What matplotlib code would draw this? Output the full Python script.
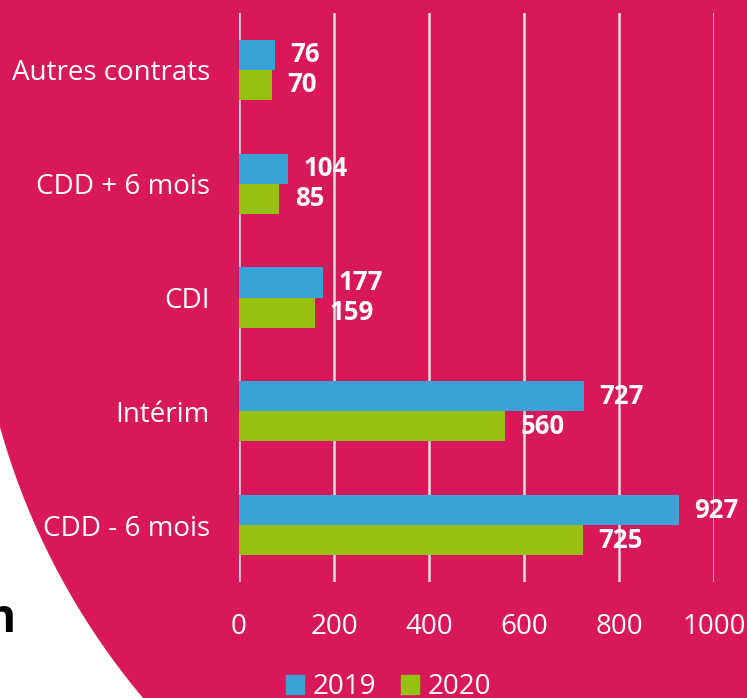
import matplotlib

matplotlib.use("Agg")
import matplotlib.pyplot as plt
import numpy as np
from matplotlib.patches import Polygon, Patch

categories = ["CDD - 6 mois", "Intérim", "CDI", "CDD + 6 mois", "Autres contrats"]
values_2019 = [927, 727, 177, 104, 76]
values_2020 = [725, 560, 159, 85, 70]
series_names = ["2019", "2020"]
x_ticks = [0, 200, 400, 600, 800, 1000]

MAGENTA = "#D9185B"
BLUE = "#3AA3D6"
GREEN = "#97C110"
GRID = "#E2DDE0"

plt.rcParams["font.family"] = ["Open Sans", "DejaVu Sans"]

W, H = 747, 698
figure = plt.figure(figsize=(W / 100, H / 100), dpi=100)
figure.patch.set_facecolor(MAGENTA)

# white area in the lower left corner (edge of a big round shape)
cx, cy, r = 698.2, 231.8, 725.0
y_start = cy + np.sqrt(r**2 - cx**2)
x_end = cx - np.sqrt(r**2 - (H + 10 - cy) ** 2)
t0 = np.arctan2(y_start - cy, 0 - cx)
t1 = np.arctan2(H + 10 - cy, x_end - cx)
theta = np.linspace(t0, t1, 200)
arc_x = cx + r * np.cos(theta)
arc_y = cy + r * np.sin(theta)
pts = [(x / W, 1 - y / H) for x, y in zip(arc_x, arc_y)]
pts += [(-0.02, 1 - (H + 10) / H), (-0.02, 1 - y_start / H)]
figure.patches.append(Polygon(pts, closed=True, facecolor="white", edgecolor="none",
                              transform=figure.transFigure, zorder=-1))

figure.text(16 / W, 1 - 632 / H, "n", ha="right", va="baseline", fontsize=33,
            fontweight="bold", color="black")

axis = figure.add_axes([239 / W, 1 - 582 / H, (714 - 239) / W, (582 - 13) / H])
axis.set_facecolor("none")

y = np.arange(len(categories))
h = 0.264
bars_2019 = axis.barh(y + h / 2, values_2019, height=h, color=BLUE, label=series_names[0])
bars_2020 = axis.barh(y - h / 2, values_2020, height=h, color=GREEN, label=series_names[1])

for bars in (bars_2019, bars_2020):
    for bar in bars:
        value = bar.get_width()
        axis.annotate(f"{value:.0f}", (value, bar.get_y() + bar.get_height() / 2),
                      xytext=(11, 0), textcoords="offset points", ha="left", va="center",
                      fontsize=18.5, fontweight="bold", color="white")

axis.set_xlim(0, 1000)
axis.set_ylim(-0.5, 4.5)
axis.set_xticks(x_ticks)
axis.set_yticks(y, labels=categories)
axis.tick_params(axis="both", length=0, colors="white", labelsize=20)
axis.tick_params(axis="y", pad=21)
axis.tick_params(axis="x", pad=22)
axis.grid(axis="x", color=GRID, linewidth=1.8)
axis.set_axisbelow(True)
for spine in axis.spines.values():
    spine.set_visible(False)

handles = [Patch(color=BLUE, label=series_names[0]), Patch(color=GREEN, label=series_names[1])]
axis.legend(handles=handles, loc="center", bbox_to_anchor=(0.52, 1 - 687 / H),
            bbox_transform=figure.transFigure, ncol=2, frameon=False, fontsize=20,
            labelcolor="white", handlelength=0.65, handleheight=0.65,
            handletextpad=0.3, columnspacing=0.9, borderpad=0)

figure.savefig("out.png", dpi=100, facecolor=figure.get_facecolor())
plt.close(figure)
